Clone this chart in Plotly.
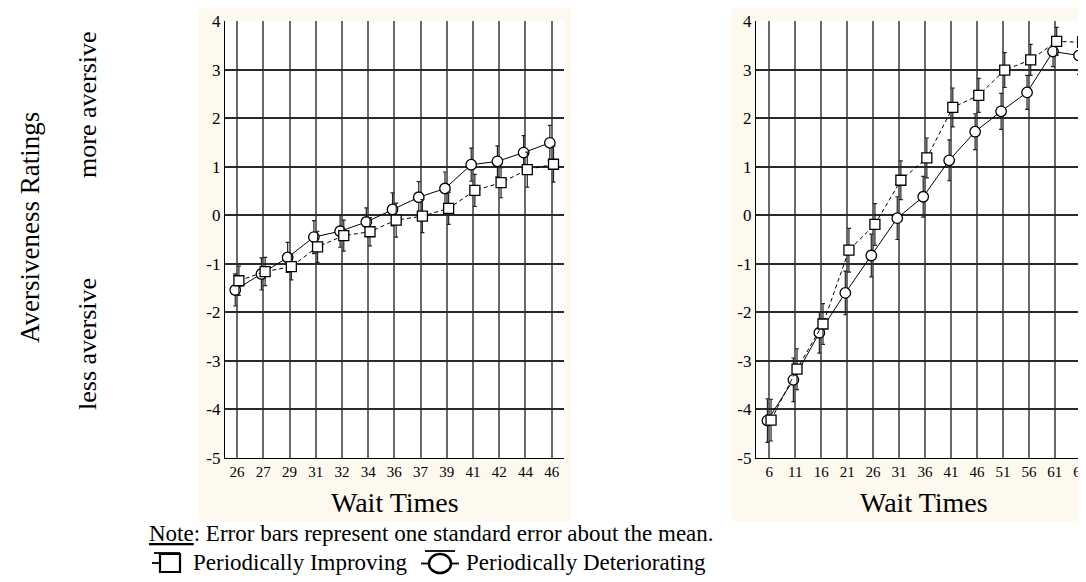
import plotly.graph_objects as go

# The page body has an 8px default margin, so the figure is sized to fill the rest of the window.
OFF = 8
W, H = 1086 - OFF, 582 - OFF

# ---------------- data ----------------
left_labels = ["26", "27", "29", "31", "32", "34", "36", "37", "39", "41", "42", "44", "46"]
left_improving = [-1.35, -1.16, -1.06, -0.65, -0.42, -0.34, -0.10, -0.02, 0.14, 0.51, 0.67, 0.94, 1.05]
left_improving_se = [0.30, 0.29, 0.27, 0.32, 0.32, 0.29, 0.35, 0.34, 0.33, 0.33, 0.31, 0.36, 0.37]
left_deteriorating = [-1.54, -1.21, -0.87, -0.45, -0.33, -0.14, 0.12, 0.37, 0.55, 1.04, 1.11, 1.29, 1.49]
left_deteriorating_se = [0.33, 0.33, 0.31, 0.34, 0.33, 0.29, 0.34, 0.32, 0.34, 0.34, 0.32, 0.35, 0.36]

right_labels = ["6", "11", "16", "21", "26", "31", "36", "41", "46", "51", "56", "61", "66"]
right_improving = [-4.22, -3.17, -2.24, -0.72, -0.19, 0.72, 1.18, 2.22, 2.47, 2.99, 3.20, 3.58, 3.56]
right_improving_se = [0.43, 0.42, 0.42, 0.45, 0.43, 0.40, 0.41, 0.40, 0.35, 0.36, 0.32, 0.29, 0.38]
right_deteriorating = [-4.23, -3.39, -2.42, -1.60, -0.83, -0.06, 0.38, 1.13, 1.72, 2.14, 2.53, 3.37, 3.29]
right_deteriorating_se = [0.45, 0.45, 0.42, 0.45, 0.44, 0.44, 0.42, 0.42, 0.37, 0.37, 0.35, 0.31, 0.39]

y_ticks = [-5, -4, -3, -2, -1, 0, 1, 2, 3, 4]

SERIF = "Liberation Serif, Times New Roman, serif"
CREAM = "#fdf9ef"
DODGE = 0.07


def px(x):
    return (x - OFF) / W


def py(y):
    return 1 - (y - OFF) / H


fig = go.Figure()


def add_panel(labels, imp, imp_se, det, det_se, xa, ya):
    idx = list(range(len(labels)))
    fig.add_trace(go.Scatter(
        x=[i - DODGE for i in idx], y=det, xaxis=xa, yaxis=ya,
        mode="lines+markers",
        line=dict(color="black", width=1),
        marker=dict(symbol="circle", size=10.5, color="white", line=dict(color="black", width=1.3)),
        error_y=dict(type="data", array=det_se, color="#222", thickness=1.2, width=2),
        showlegend=False, hoverinfo="skip"))
    fig.add_trace(go.Scatter(
        x=[i + DODGE for i in idx], y=imp, xaxis=xa, yaxis=ya,
        mode="lines+markers",
        line=dict(color="black", width=1, dash="4px,3px"),
        marker=dict(symbol="square", size=10, color="white", line=dict(color="black", width=1.3)),
        error_y=dict(type="data", array=imp_se, color="#222", thickness=1.2, width=2),
        showlegend=False, hoverinfo="skip"))


add_panel(left_labels, left_improving, left_improving_se, left_deteriorating, left_deteriorating_se, "x", "y")
add_panel(right_labels, right_improving, right_improving_se, right_deteriorating, right_deteriorating_se, "x2", "y2")

ytop, ybot = 21, 458
ydom = [py(ybot), py(ytop)]
L1, R1 = 225, 564
L2, R2 = 756, 1086

xcommon = dict(
    showgrid=True, gridcolor="#6a6a6a", gridwidth=2,
    showline=True, linecolor="black", linewidth=1.2,
    ticks="", zeroline=False, automargin=False, ticklabeloverflow="allow",
    tickfont=dict(family=SERIF, size=15, color="black"),
)
ycommon = dict(
    range=[-5, 4], tickvals=y_ticks, ticktext=[str(v) for v in y_ticks],
    showgrid=True, gridcolor="#2a2a2a", gridwidth=1.5,
    showline=True, linecolor="black", linewidth=1.2,
    ticks="", zeroline=False, domain=ydom, automargin=False,
    tickfont=dict(family=SERIF, size=17, color="black"),
)

fig.update_layout(
    width=W, height=H,
    margin=dict(l=0, r=0, t=0, b=0, pad=0),
    paper_bgcolor="white", plot_bgcolor="white",
    xaxis=dict(domain=[px(L1), px(R1)], range=[-0.46, 12.47],
               tickvals=list(range(len(left_labels))), ticktext=left_labels, anchor="y", **xcommon),
    yaxis=dict(anchor="x", **ycommon),
    xaxis2=dict(domain=[px(L2), min(1.0, px(R2))], range=[-0.51, 12.2],
                tickvals=list(range(len(right_labels))), ticktext=right_labels, anchor="y2", **xcommon),
    yaxis2=dict(anchor="x2", **ycommon),
)

# cream panels, with white plot areas on top of them
shapes = [
    dict(type="rect", xref="paper", yref="paper", x0=px(198), x1=px(571), y0=py(521), y1=py(7),
         fillcolor=CREAM, line=dict(width=0), layer="below"),
    dict(type="rect", xref="paper", yref="paper", x0=px(731), x1=1.0, y0=py(521), y1=py(7),
         fillcolor=CREAM, line=dict(width=0), layer="below"),
    dict(type="rect", xref="paper", yref="paper", x0=px(L1), x1=px(R1), y0=py(ybot), y1=py(ytop),
         fillcolor="white", line=dict(width=0), layer="below"),
    dict(type="rect", xref="paper", yref="paper", x0=px(L2), x1=1.0, y0=py(ybot), y1=py(ytop),
         fillcolor="white", line=dict(width=0), layer="below"),
]

# legend icons (square: Periodically Improving, circle: Periodically Deteriorating)
shapes += [
    dict(type="rect", xref="paper", yref="paper", x0=px(160), x1=px(180), y0=py(572), y1=py(554),
         line=dict(color="black", width=2.2), fillcolor="white"),
    dict(type="line", xref="paper", yref="paper", x0=px(152), x1=px(160), y0=py(563), y1=py(563),
         line=dict(color="black", width=1.8)),
    dict(type="line", xref="paper", yref="paper", x0=px(154), x1=px(180), y0=py(553), y1=py(553),
         line=dict(color="black", width=1.8)),
    dict(type="circle", xref="paper", yref="paper", x0=px(429), x1=px(451), y0=py(573), y1=py(554),
         line=dict(color="black", width=2.4), fillcolor="white"),
    dict(type="line", xref="paper", yref="paper", x0=px(425), x1=px(455), y0=py(551), y1=py(551),
         line=dict(color="black", width=1.8)),
    dict(type="line", xref="paper", yref="paper", x0=px(421), x1=px(429), y0=py(563.5), y1=py(563.5),
         line=dict(color="black", width=1.8)),
    dict(type="line", xref="paper", yref="paper", x0=px(451), x1=px(459), y0=py(563.5), y1=py(563.5),
         line=dict(color="black", width=1.8)),
]
fig.update_layout(shapes=shapes)

annotations = [
    dict(text="Aversiveness Ratings", x=px(30), y=py(228), textangle=-90,
         font=dict(family=SERIF, size=27, color="black")),
    dict(text="more aversive", x=px(87), y=py(105), textangle=-90,
         font=dict(family=SERIF, size=26, color="black")),
    dict(text="less aversive", x=px(87), y=py(344), textangle=-90,
         font=dict(family=SERIF, size=26, color="black")),
    dict(text="Wait Times", x=px((L1 + R1) / 2), y=py(502),
         font=dict(family=SERIF, size=28, color="black")),
    dict(text="Wait Times", x=px(924), y=py(502),
         font=dict(family=SERIF, size=28, color="black")),
    dict(text="<u>Note</u>: Error bars represent one standard error about the mean.",
         x=px(147), y=py(533), xanchor="left",
         font=dict(family=SERIF, size=23, color="black")),
    dict(text="Periodically Improving", x=px(191), y=py(562), xanchor="left",
         font=dict(family=SERIF, size=23, color="black")),
    dict(text="Periodically Deteriorating", x=px(464), y=py(562), xanchor="left",
         font=dict(family=SERIF, size=23, color="black")),
]
for a in annotations:
    a.setdefault("xref", "paper")
    a.setdefault("yref", "paper")
    a.setdefault("showarrow", False)
    a.setdefault("yanchor", "middle")
    a.setdefault("xanchor", "center")
fig.update_layout(annotations=annotations)

fig.write_html("out.html")
